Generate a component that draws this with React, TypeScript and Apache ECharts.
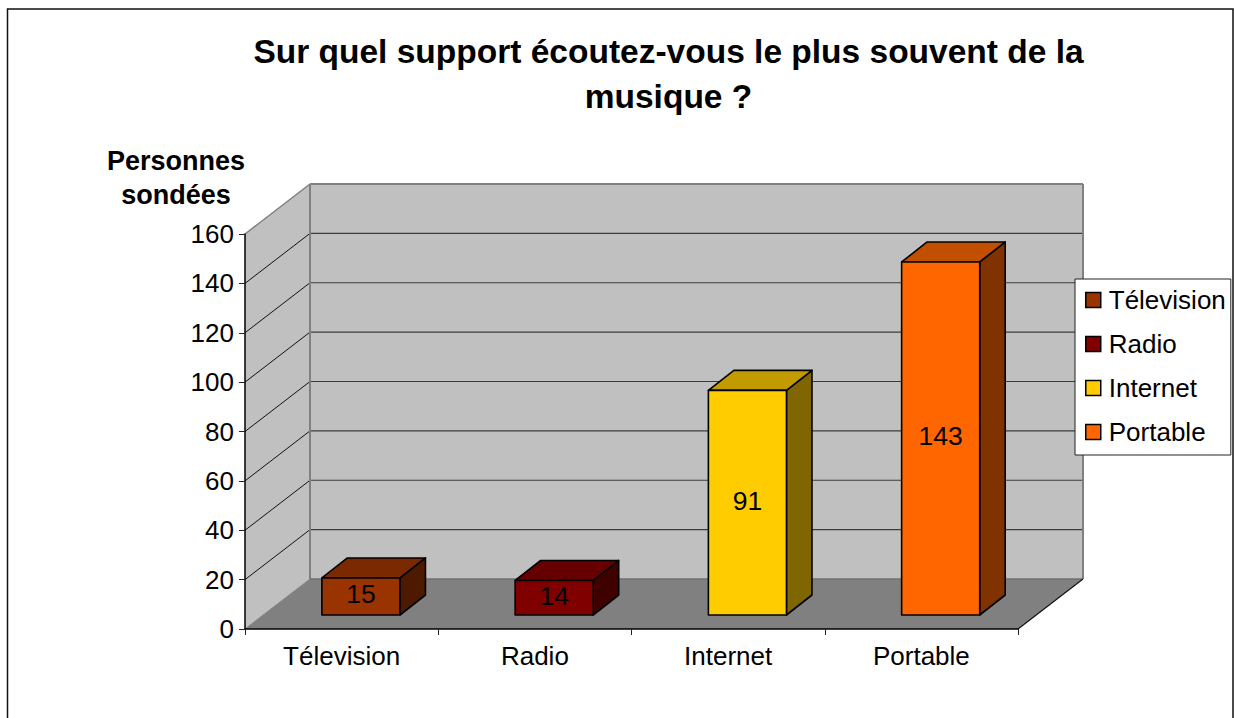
import React, { useEffect, useRef } from "react";
import * as echarts from "echarts";

const titleText = "Sur quel support écoutez-vous le plus souvent de la\nmusique ?";
const axisName = "Personnes\nsondées";
const categories = ["Télevision", "Radio", "Internet", "Portable"];
const values = [15, 14, 91, 143];
const frontColors = ["#993300", "#800000", "#FFCC00", "#FF6600"];
const topColors = ["#7A2900", "#660000", "#C29B00", "#C24E00"];
const sideColors = ["#4D1A00", "#400000", "#806600", "#803300"];
const yTicks = [0, 20, 40, 60, 80, 100, 120, 140, 160];

const FONT = "Liberation Sans, Arial, sans-serif";
const DEPTH_X = 65;
const DEPTH_Y = -50;
const BAR_OFF_X = 19.3;
const BAR_OFF_Y = -14;
const BAR_W = 0.404;
const BAR_DX = 25.5;
const BAR_DY = -20;

function renderWalls(params: any, api: any) {
  const cs = params.coordSys;
  const x0 = cs.x;
  const x1 = cs.x + cs.width;
  const y0 = api.coord([0, 0])[1];
  const yMax = api.coord([0, 160])[1];
  const children: any[] = [];
  const poly = (pts: number[][], fill: string) => ({
    type: "polygon",
    shape: { points: pts },
    style: { fill, stroke: "none" },
  });
  const line = (a: number[], b: number[], stroke: string, lineWidth = 1) => ({
    type: "line",
    shape: { x1: a[0], y1: a[1], x2: b[0], y2: b[1] },
    style: { stroke, lineWidth, fill: "none" },
  });
  const bx0 = x0 + DEPTH_X;
  const bx1 = x1 + DEPTH_X;
  children.push(poly([[bx0, yMax + DEPTH_Y], [bx1, yMax + DEPTH_Y], [bx1, y0 + DEPTH_Y], [bx0, y0 + DEPTH_Y]], "#C0C0C0"));
  children.push(poly([[x0, yMax], [bx0, yMax + DEPTH_Y], [bx0, y0 + DEPTH_Y], [x0, y0]], "#C0C0C0"));
  children.push(poly([[x0, y0], [bx0, y0 + DEPTH_Y], [bx1, y0 + DEPTH_Y], [x1, y0]], "#808080"));
  yTicks.forEach((t) => {
    if (t === 0 || t === 160) return;
    const y = api.coord([0, t])[1];
    children.push(line([x0, y], [bx0, y + DEPTH_Y], "#111111", 1));
    children.push(line([bx0, y + DEPTH_Y], [bx1, y + DEPTH_Y], "#3C3C3C", 1.2));
  });
  children.push(line([x0, yMax], [bx0, yMax + DEPTH_Y], "#808080", 1.5));
  children.push(line([bx0, yMax + DEPTH_Y], [bx1, yMax + DEPTH_Y], "#808080", 2));
  children.push(line([bx0, yMax + DEPTH_Y], [bx0, y0 + DEPTH_Y], "#808080", 2));
  children.push(line([bx1, yMax + DEPTH_Y], [bx1, y0 + DEPTH_Y], "#808080", 2));
  children.push(line([bx0, y0 + DEPTH_Y], [bx1, y0 + DEPTH_Y], "#707070", 1.5));
  children.push(line([x0, y0], [bx0, y0 + DEPTH_Y], "#808080", 1));
  children.push(line([x1, y0], [bx1, y0 + DEPTH_Y], "#111111", 1.2));
  return { type: "group", children };
}

function renderBar(i: number) {
  return (_params: any, api: any) => {
    const idx = api.value(0);
    const v = api.value(1);
    const base = api.coord([idx, 0]);
    const top = api.coord([idx, v]);
    const band = api.size([1, 0])[0];
    const w = band * BAR_W;
    const cx = base[0] + BAR_OFF_X;
    const l = cx - w / 2;
    const r = cx + w / 2;
    const yb = base[1] + BAR_OFF_Y;
    const yt = top[1] + BAR_OFF_Y;
    const stroke = { stroke: "#000000", lineWidth: 1.6, lineJoin: "round" };
    return {
      type: "group",
      children: [
        {
          type: "polygon",
          shape: { points: [[r, yt], [r + BAR_DX, yt + BAR_DY], [r + BAR_DX, yb + BAR_DY], [r, yb]] },
          style: { fill: sideColors[i], ...stroke },
        },
        {
          type: "polygon",
          shape: { points: [[l, yt], [l + BAR_DX, yt + BAR_DY], [r + BAR_DX, yt + BAR_DY], [r, yt]] },
          style: { fill: topColors[i], ...stroke },
        },
        {
          type: "rect",
          shape: { x: l, y: yt, width: r - l, height: yb - yt },
          style: { fill: frontColors[i], ...stroke },
        },
        {
          type: "text",
          x: cx,
          y: (yt + yb) / 2 - 2,
          style: {
            text: String(v),
            fill: "#000000",
            font: `26.5px ${FONT}`,
            align: "center",
            verticalAlign: "middle",
          },
        },
      ],
    };
  };
}

export default function App() {
  const ref = useRef<HTMLDivElement>(null);
  useEffect(() => {
    const chart = echarts.init(ref.current!, undefined, { renderer: "svg" });
    chart.setOption({
      animation: false,
      backgroundColor: "#FFFFFF",
      textStyle: { fontFamily: FONT },
      title: {
        text: titleText,
        left: 663.5,
        top: 24,
        textAlign: "center",
        textStyle: {
          fontFamily: FONT,
          fontWeight: "bold",
          fontSize: 33.5,
          lineHeight: 45,
          color: "#000000",
        },
      },
      grid: { left: 245, top: 234, width: 773, height: 395, containLabel: false },
      xAxis: {
        type: "category",
        data: categories,
        z: 5,
        axisLine: { lineStyle: { color: "#000000", width: 1.5 } },
        axisTick: { show: true, length: 6, lineStyle: { color: "#222222", width: 1 } },
        axisLabel: { margin: 14, color: "#000000", fontSize: 26, fontFamily: FONT },
      },
      yAxis: {
        type: "value",
        min: 0,
        max: 160,
        interval: 20,
        z: 5,
        name: axisName,
        nameLocation: "end",
        nameGap: 22,
        nameTextStyle: {
          fontFamily: FONT,
          fontWeight: "bold",
          fontSize: 27,
          lineHeight: 34,
          color: "#000000",
          align: "center",
          padding: [0, 138, 0, 0],
        },
        splitLine: { show: false },
        axisLine: { show: true, lineStyle: { color: "#000000", width: 1.5 } },
        axisTick: { show: true, length: 6, lineStyle: { color: "#222222", width: 1 } },
        axisLabel: { margin: 11, color: "#000000", fontSize: 26, fontFamily: FONT },
      },
      legend: {
        orient: "vertical",
        left: 1075,
        top: 279,
        z: 20,
        selectedMode: false,
        backgroundColor: "#FFFFFF",
        borderColor: "#222222",
        borderWidth: 1,
        padding: [8, 5, 10, 10],
        itemGap: 18,
        itemWidth: 15,
        itemHeight: 15,
        textStyle: { fontFamily: FONT, fontSize: 26, color: "#000000", padding: [0, 0, 0, 3] },
        data: categories.map((name, i) => ({
          name,
          icon: "rect",
          itemStyle: { color: frontColors[i], borderColor: "#000000", borderWidth: 1.5 },
        })),
      },
      graphic: [
        {
          type: "rect",
          z: 30,
          silent: true,
          shape: { x: 7.5, y: 9, width: 1225.5, height: 800 },
          style: { fill: "none", stroke: "#111111", lineWidth: 1.5 },
        },
      ],
      series: [
        {
          type: "custom",
          name: "walls",
          z: 1,
          silent: true,
          clip: false,
          renderItem: renderWalls,
          encode: { x: 0, y: 1 },
          data: [[0, 0]],
        },
        ...categories.map((name, i) => ({
          type: "custom",
          name,
          z: 6 + i,
          clip: false,
          silent: true,
          itemStyle: { color: frontColors[i] },
          renderItem: renderBar(i),
          encode: { x: 0, y: 1 },
          data: [[i, values[i]]],
        })),
      ],
    });
    return () => chart.dispose();
  }, []);
  return (
    <div
      ref={ref}
      style={{ position: "fixed", left: 0, top: 0, width: 1234, height: 718 }}
    />
  );
}
